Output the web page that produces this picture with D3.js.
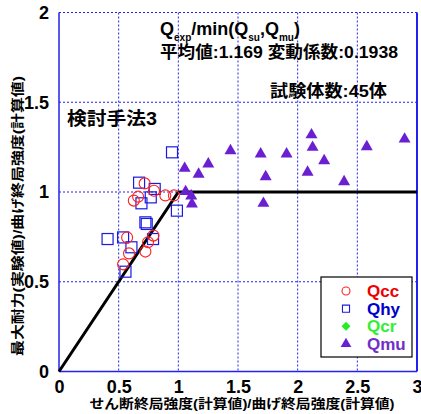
<!DOCTYPE html>
<html>
<head>
<meta charset="utf-8">
<script src="https://cdn.jsdelivr.net/npm/d3@7"></script>
<style>
  body { margin: 0; background: #fff; }
  text { font-family: "Liberation Sans", Arial, "Noto Sans CJK JP", sans-serif; font-weight: bold; }
  .jp { font-family: "Liberation Sans", Arial, "Noto Sans CJK JP", sans-serif; }
</style>
</head>
<body>
<div id="chart-area"></div>
<script>
// Qcc (circle)
var qccX = [0.718, 0.796, 0.663, 0.627, 0.891, 0.963, 0.571, 0.791, 0.746, 0.724, 0.587, 0.537];
var qccY = [1.048, 1.007, 0.974, 0.952, 0.981, 0.981, 0.747, 0.757, 0.720, 0.668, 0.658, 0.597];

// Qhy (square)
var qhyX = [0.947, 0.671, 0.802, 0.769, 0.691, 0.988, 0.724, 0.735, 0.407, 0.537, 0.788, 0.607, 0.557];
var qhyY = [1.221, 1.052, 1.017, 0.970, 0.937, 0.896, 0.831, 0.822, 0.738, 0.747, 0.738, 0.692, 0.556];

// Qmu (triangle)
var qmuX = [1.053, 1.170, 1.251, 1.437, 1.690, 1.907, 1.732, 1.061, 1.108, 1.114, 1.713,
            2.116, 2.125, 2.222, 2.083, 2.389, 2.579, 2.896];
var qmuY = [1.132, 1.099, 1.156, 1.230, 1.212, 1.212, 1.085, 1.002, 0.978, 0.933, 0.937,
            1.318, 1.249, 1.174, 1.110, 1.057, 1.252, 1.295];

// bilinear line
var lineX = [0, 1, 3];
var lineY = [0, 1, 1];

var xTicks = [0, 0.5, 1, 1.5, 2, 2.5, 3];
var yTicks = [0, 0.5, 1, 1.5, 2];

var legendNames = ["Qcc", "Qhy", "Qcr", "Qmu"];
var legendColors = ["#ee0000", "#0000cc", "#33ee33", "#7030c8"];

var W = 421, H = 414;
var pL = 59, pR = 417, pT = 12.5, pB = 371.5;

var svg = d3
  .select("#chart-area")
  .append("svg")
  .attr("width", W)
  .attr("height", H);

var x = d3.scaleLinear().domain([0, 3]).range([pL, pR]);
var y = d3.scaleLinear().domain([0, 2]).range([pB, pT]);

// grid
svg.append("g")
  .selectAll("line")
  .data(xTicks.slice(1, -1))
  .enter()
  .append("line")
  .attr("x1", d => x(d)).attr("x2", d => x(d))
  .attr("y1", pT).attr("y2", pB)
  .attr("stroke", "#2222ee")
  .attr("stroke-width", 1)
  .attr("stroke-dasharray", "2,2");

svg.append("g")
  .selectAll("line")
  .data(yTicks.slice(1))
  .enter()
  .append("line")
  .attr("x1", pL).attr("x2", pR)
  .attr("y1", d => y(d)).attr("y2", d => y(d))
  .attr("stroke", "#2222ee")
  .attr("stroke-width", 1)
  .attr("stroke-dasharray", "2,2");

// frame
svg.append("line").attr("x1", pL).attr("x2", pL).attr("y1", pT).attr("y2", pB)
  .attr("stroke", "#2222ee").attr("stroke-width", 1.5);
svg.append("line").attr("x1", pL).attr("x2", pR).attr("y1", pB).attr("y2", pB)
  .attr("stroke", "#2222ee").attr("stroke-width", 1.5);
svg.append("line").attr("x1", pR).attr("x2", pR).attr("y1", pT).attr("y2", pB)
  .attr("stroke", "#2222ee").attr("stroke-width", 2);

// axes
var xAxis = svg.append("g")
  .attr("transform", "translate(0," + pB + ")")
  .call(d3.axisBottom(x).tickValues(xTicks).tickSize(0).tickPadding(9).tickFormat(d => d));
var yAxis = svg.append("g")
  .attr("transform", "translate(" + pL + ",0)")
  .call(d3.axisLeft(y).tickValues(yTicks).tickSize(0).tickPadding(10).tickFormat(d => d));
[xAxis, yAxis].forEach(a => {
  a.select(".domain").remove();
  a.selectAll("text")
    .attr("font-size", 18)
    .attr("font-family", "'Liberation Sans', Arial, sans-serif")
    .attr("font-weight", "bold")
    .attr("fill", "#000");
});

// black line
svg.append("path")
  .datum(lineX.map((d, i) => [d, lineY[i]]))
  .attr("d", d3.line().x(d => x(d[0])).y(d => y(d[1])))
  .attr("fill", "none")
  .attr("stroke", "#000")
  .attr("stroke-width", 3);

// markers
svg.append("g")
  .selectAll("rect")
  .data(qhyX)
  .enter()
  .append("rect")
  .attr("x", (d, i) => x(d) - 5.5)
  .attr("y", (d, i) => y(qhyY[i]) - 5.5)
  .attr("width", 11)
  .attr("height", 11)
  .attr("fill", "none")
  .attr("stroke", "#1a1ae0")
  .attr("stroke-width", 1.2);

svg.append("g")
  .selectAll("circle")
  .data(qccX)
  .enter()
  .append("circle")
  .attr("cx", (d, i) => x(d))
  .attr("cy", (d, i) => y(qccY[i]))
  .attr("r", 5.5)
  .attr("fill", "none")
  .attr("stroke", "#ff2020")
  .attr("stroke-width", 1.1);

var tri = d3.symbol().type(d3.symbolTriangle).size(62);
svg.append("g")
  .selectAll("path")
  .data(qmuX)
  .enter()
  .append("path")
  .attr("d", tri)
  .attr("transform", (d, i) => "translate(" + x(d) + "," + y(qmuY[i]) + ")")
  .attr("fill", "#6a1fd0");

// texts
var title = svg.append("text").attr("x", 160).attr("y", 35).attr("font-size", 18);
title.append("tspan").text("Q");
title.append("tspan").attr("font-size", 10).attr("dy", 6).text("exp");
title.append("tspan").attr("dy", -6).text("/min(Q");
title.append("tspan").attr("font-size", 10).attr("dy", 6).text("su");
title.append("tspan").attr("dy", -6).text(",Q");
title.append("tspan").attr("font-size", 10).attr("dy", 6).text("mu");
title.append("tspan").attr("dy", -6).text(")");

svg.append("text").attr("class", "jp").attr("x", 160).attr("y", 58).attr("font-size", 17)
  .attr("textLength", 238).attr("lengthAdjust", "spacingAndGlyphs")
  .text("平均値:1.169 変動係数:0.1938");
svg.append("text").attr("class", "jp").attr("x", 270).attr("y", 97).attr("font-size", 17)
  .attr("textLength", 117).attr("lengthAdjust", "spacingAndGlyphs")
  .text("試験体数:45体");
svg.append("text").attr("class", "jp").attr("x", 67).attr("y", 125).attr("font-size", 18)
  .attr("textLength", 90).attr("lengthAdjust", "spacingAndGlyphs")
  .text("検討手法3");

// axis titles
svg.append("text").attr("class", "jp")
  .attr("x", 242).attr("y", 408)
  .attr("text-anchor", "middle")
  .attr("font-size", 13)
  .attr("textLength", 305).attr("lengthAdjust", "spacingAndGlyphs")
  .text("せん断終局強度(計算値)/曲げ終局強度(計算値)");
svg.append("text").attr("class", "jp")
  .attr("transform", "translate(22,216) rotate(-90)")
  .attr("text-anchor", "middle")
  .attr("font-size", 13)
  .attr("textLength", 280).attr("lengthAdjust", "spacingAndGlyphs")
  .text("最大耐力(実験値)/曲げ終局強度(計算値)");

// legend
var lg = svg.append("g");
lg.append("rect")
  .attr("x", 321).attr("y", 277).attr("width", 91).attr("height", 80)
  .attr("fill", "#fff").attr("stroke", "#000").attr("stroke-width", 1.2);

var legendY = d3.scalePoint().domain(legendNames).range([291, 344]);
var shapes = [d3.symbolCircle, d3.symbolSquare, d3.symbolSquare, d3.symbolTriangle];
lg.selectAll("path")
  .data(legendNames)
  .enter()
  .append("path")
  .attr("d", (d, i) => d3.symbol().type(shapes[i]).size(i === 2 ? 40 : 50)())
  .attr("transform", (d, i) => "translate(346," + legendY(d) + ")" + (i === 2 ? " rotate(45)" : ""))
  .attr("fill", (d, i) => i < 2 ? "none" : (i === 2 ? "#22ee22" : "#6a1fd0"))
  .attr("stroke", (d, i) => i === 0 ? "#ff2020" : (i === 1 ? "#1a1ae0" : "none"))
  .attr("stroke-width", 1.1);

lg.selectAll("text")
  .data(legendNames)
  .enter()
  .append("text")
  .attr("x", 367)
  .attr("y", d => legendY(d) + 6)
  .attr("font-size", 17)
  .attr("fill", (d, i) => legendColors[i])
  .text(d => d);
</script>
</body>
</html>
